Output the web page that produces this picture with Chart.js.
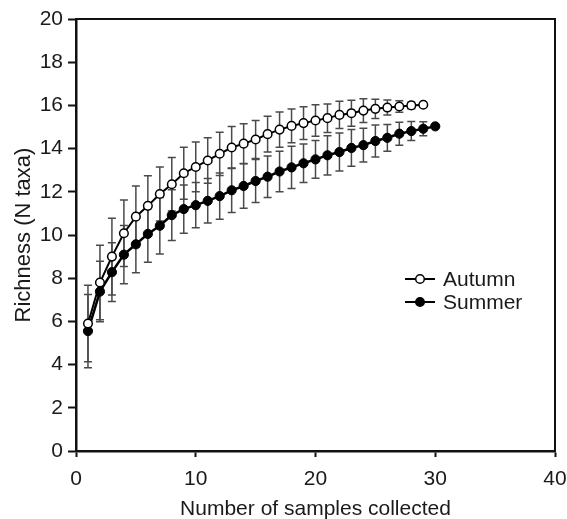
<!DOCTYPE html>
<html><head><meta charset="utf-8">
<script src="https://cdn.jsdelivr.net/npm/chart.js@4/dist/chart.umd.min.js"></script>
<style>html,body{margin:0;padding:0;background:#fff;overflow:hidden}</style>
</head><body>
<canvas id="c" width="567" height="519" style="width:567px;height:519px"></canvas>
<script>
// ---- data ----
const seriesNames = ["Autumn", "Summer"];
const autumnSamples = [1,2,3,4,5,6,7,8,9,10,11,12,13,14,15,16,17,18,19,20,21,22,23,24,25,26,27,28,29];
const autumnMean = [5.9, 7.8, 9.0, 10.08, 10.85, 11.35, 11.9, 12.35, 12.86, 13.15, 13.45, 13.76, 14.05, 14.23, 14.42, 14.67, 14.88, 15.05, 15.18, 15.3, 15.41, 15.56, 15.64, 15.76, 15.84, 15.9, 15.95, 16.0, 16.03];
const autumnSD = [1.77, 1.72, 1.78, 1.54, 1.42, 1.39, 1.25, 1.24, 1.2, 1.15, 1.05, 1.0, 0.97, 0.92, 0.88, 0.83, 0.82, 0.78, 0.76, 0.73, 0.66, 0.63, 0.6, 0.55, 0.45, 0.35, 0.27, 0.15, 0];
const summerSamples = [1,2,3,4,5,6,7,8,9,10,11,12,13,14,15,16,17,18,19,20,21,22,23,24,25,26,27,28,29,30];
const summerMean = [5.55, 7.38, 8.28, 9.09, 9.57, 10.05, 10.43, 10.92, 11.2, 11.38, 11.58, 11.8, 12.07, 12.27, 12.5, 12.7, 12.94, 13.13, 13.32, 13.5, 13.69, 13.84, 14.03, 14.16, 14.35, 14.5, 14.69, 14.81, 14.92, 15.03];
const summerSD = [1.7, 1.4, 1.36, 1.35, 1.32, 1.31, 1.31, 1.18, 1.12, 1.05, 1.03, 1.07, 1.03, 1.03, 1.0, 0.96, 0.94, 0.98, 0.89, 0.87, 0.91, 0.88, 0.85, 0.78, 0.74, 0.62, 0.53, 0.44, 0.32, 0];
const xTicks = [0, 10, 20, 30, 40];
const yTicks = [0, 2, 4, 6, 8, 10, 12, 14, 16, 18, 20];
const xTitle = "Number of samples collected";
const yTitle = "Richness (N taxa)";

const FONT = "'Liberation Sans', Arial, sans-serif";
const TXT = '#1a1a1a';

function pts(xs, ys){ return xs.map((x,i)=>({x:x, y:ys[i]})); }

const errorBars = {
  id: 'errorBars',
  beforeDatasetsDraw(chart){
    const ctx = chart.ctx, xs = chart.scales.x, ys = chart.scales.y;
    ctx.save();
    ctx.strokeStyle = '#4a4a4a';
    ctx.lineWidth = 1.5;
    chart.data.datasets.forEach(ds => {
      ds.data.forEach((p, i) => {
        const sd = ds.errors[i];
        if (!sd) return;
        const px = xs.getPixelForValue(p.x);
        const top = ys.getPixelForValue(p.y + sd);
        const bot = ys.getPixelForValue(p.y - sd);
        ctx.beginPath();
        ctx.moveTo(px, top); ctx.lineTo(px, bot);
        ctx.moveTo(px - 4, top); ctx.lineTo(px + 4, top);
        ctx.moveTo(px - 4, bot); ctx.lineTo(px + 4, bot);
        ctx.stroke();
      });
    });
    ctx.restore();
  }
};

const frame = {
  id: 'frame',
  afterDraw(chart){
    const {ctx, chartArea:a} = chart;
    ctx.save();
    ctx.strokeStyle = '#111';
    ctx.lineWidth = 2;
    ctx.beginPath();
    ctx.moveTo(a.left, a.top); ctx.lineTo(a.right, a.top); ctx.lineTo(a.right, a.bottom);
    ctx.stroke();
    ctx.restore();
  }
};

const insideLegend = {
  id: 'insideLegend',
  afterDraw(chart){
    const ctx = chart.ctx;
    const x0 = 405, y0 = 279, dy = 23;
    ctx.save();
    chart.data.datasets.forEach((ds, i) => {
      const y = y0 + i * dy;
      ctx.strokeStyle = '#000'; ctx.lineWidth = 2;
      ctx.beginPath(); ctx.moveTo(x0, y); ctx.lineTo(x0 + 30, y); ctx.stroke();
      ctx.beginPath(); ctx.arc(x0 + 15, y, 4.3, 0, Math.PI * 2);
      ctx.fillStyle = ds.pointBackgroundColor; ctx.fill();
      ctx.lineWidth = 1.5; ctx.stroke();
      ctx.fillStyle = TXT;
      ctx.font = "21px " + FONT;
      ctx.textBaseline = 'middle'; ctx.textAlign = 'left';
      ctx.fillText(ds.label, x0 + 38, y + 1);
    });
    ctx.restore();
  }
};

new Chart(document.getElementById('c'), {
  type: 'line',
  data: {
    datasets: [
      { label: seriesNames[0], data: pts(autumnSamples, autumnMean), errors: autumnSD,
        borderColor: '#000', borderWidth: 2, pointRadius: 4.3, pointBorderWidth: 1.5,
        pointBackgroundColor: '#fff', pointBorderColor: '#000', tension: 0 },
      { label: seriesNames[1], data: pts(summerSamples, summerMean), errors: summerSD,
        borderColor: '#000', borderWidth: 2.5, pointRadius: 4.6, pointBorderWidth: 1,
        pointBackgroundColor: '#000', pointBorderColor: '#000', tension: 0 }
    ]
  },
  options: {
    responsive: false,
    animation: false,
    layout: { padding: { left: 0, right: 12, top: 19, bottom: 0 } },
    plugins: { legend: { display: false }, tooltip: { enabled: false } },
    scales: {
      x: {
        type: 'linear', min: 0, max: 40,
        afterFit(s){ s.height = 68; s.paddingRight = 0; s.paddingLeft = 0; },
        afterBuildTicks(s){ s.ticks = xTicks.map(v => ({value: v})); },
        grid: { drawOnChartArea: false, drawTicks: true, tickLength: 6, tickWidth: 2, tickColor: '#111' },
        border: { display: true, color: '#111', width: 2.5 },
        ticks: { color: TXT, font: { family: FONT, size: 21 }, padding: 10, maxRotation: 0 },
        title: { display: true, text: xTitle, color: TXT, font: { family: FONT, size: 21 }, padding: { top: 0, bottom: -3 } }
      },
      y: {
        type: 'linear', min: 0, max: 20,
        afterFit(s){ s.width = 76; s.paddingTop = 0; s.paddingBottom = 0; },
        afterBuildTicks(s){ s.ticks = yTicks.map(v => ({value: v})); },
        grid: { drawOnChartArea: false, drawTicks: true, tickLength: 8, tickWidth: 2, tickColor: '#111' },
        border: { display: true, color: '#111', width: 2.5 },
        ticks: { color: TXT, font: { family: FONT, size: 21 }, padding: 5 },
        title: { display: true, text: yTitle, color: TXT, font: { family: FONT, size: 22 }, padding: { top: 11, bottom: 0 } }
      }
    }
  },
  plugins: [errorBars, frame, insideLegend]
});
</script>
</body></html>
